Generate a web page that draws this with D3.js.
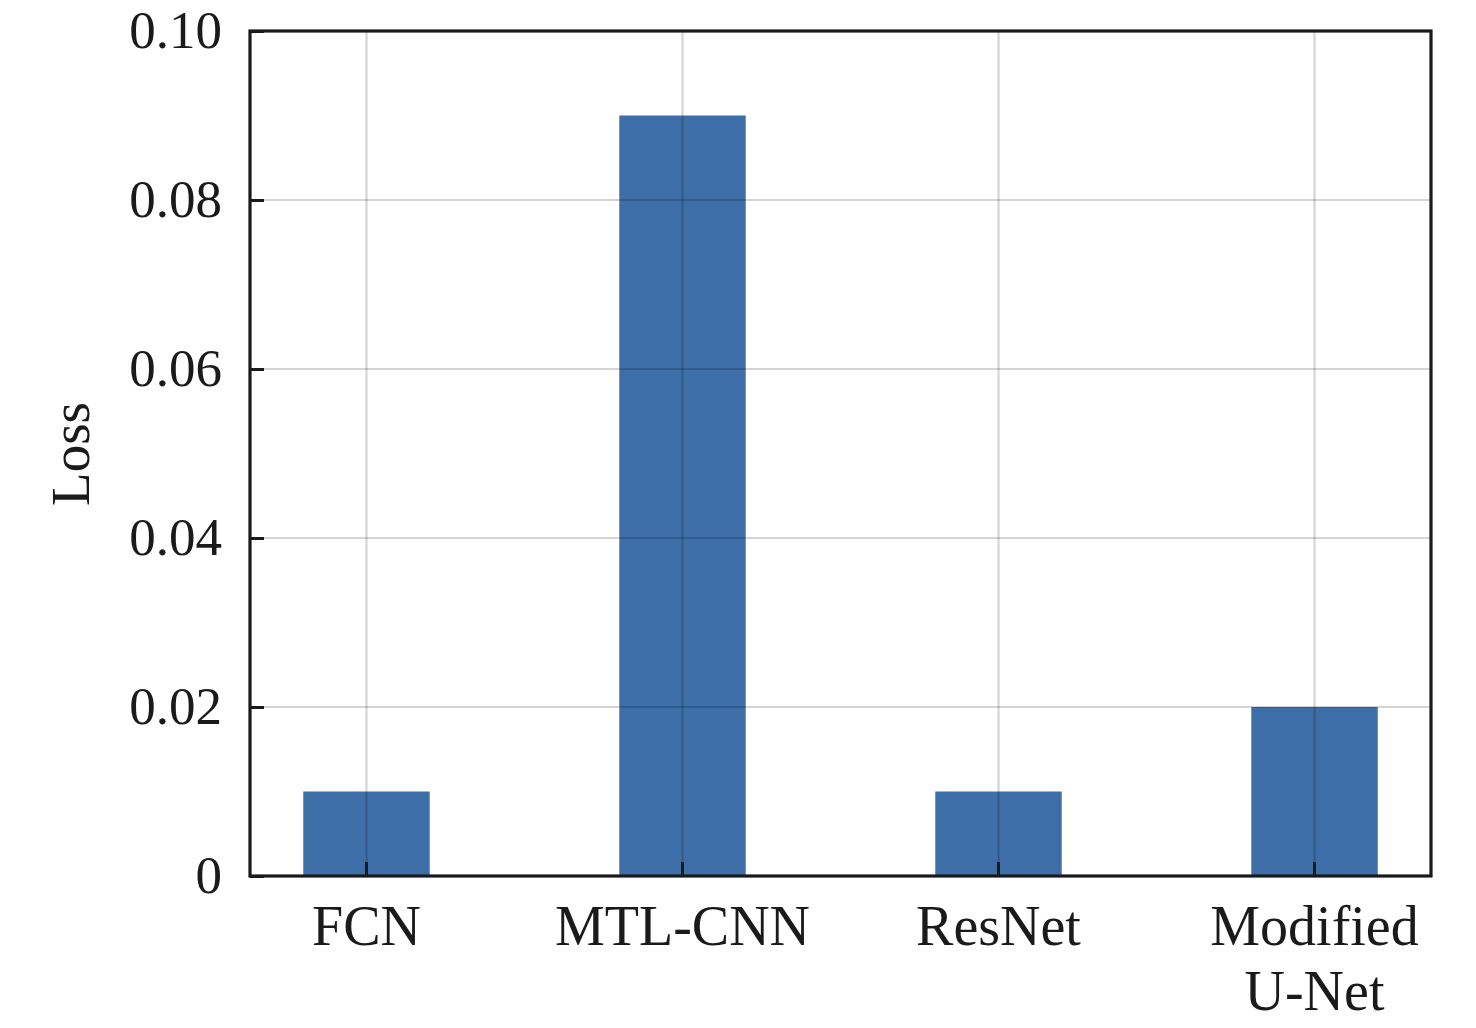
<!DOCTYPE html>
<html>
<head>
<meta charset="utf-8">
<script src="https://cdn.jsdelivr.net/npm/d3@7"></script>
<style>
html,body{margin:0;padding:0;background:#fff;}
svg{display:block;}
text{font-family:"Liberation Serif","Times New Roman",serif;fill:#1a1a1a;}
</style>
</head>
<body>
<svg id="chart" width="1476" height="1028"></svg>
<script>
const categories = ["FCN", "MTL-CNN", "ResNet", "Modified U-Net"];
const categoryLines = [["FCN"], ["MTL-CNN"], ["ResNet"], ["Modified", "U-Net"]];
const lossValues = [0.01, 0.09, 0.01, 0.02];
const yTicks = [0, 0.02, 0.04, 0.06, 0.08, 0.10];
const yTickLabels = ["0", "0.02", "0.04", "0.06", "0.08", "0.10"];

const svg = d3.select("#chart");
const L = 250, R = 1431, T = 31, B = 876;

const x = d3.scaleBand().domain(categories).range([L, R])
  .paddingInner(0.6).paddingOuter(0.1686).align(0.5);
const y = d3.scaleLinear().domain([0, 0.1]).range([B, T]);

// bars
svg.append("g").selectAll("rect").data(categories).join("rect")
  .attr("x", d => x(d))
  .attr("width", x.bandwidth())
  .attr("y", (d, i) => y(lossValues[i]))
  .attr("height", (d, i) => y(0) - y(lossValues[i]))
  .attr("fill", "#3d6ea7");

// grid lines (drawn above bars)
const grid = svg.append("g").attr("stroke", "#000").attr("stroke-opacity", 0.17).attr("stroke-width", 2.2);
grid.selectAll("line.h").data(yTicks.slice(1, -1)).join("line").attr("class", "h")
  .attr("x1", L).attr("x2", R).attr("y1", d => y(d)).attr("y2", d => y(d));
grid.selectAll("line.v").data(categories).join("line").attr("class", "v")
  .attr("x1", d => x(d) + x.bandwidth() / 2).attr("x2", d => x(d) + x.bandwidth() / 2)
  .attr("y1", T).attr("y2", B);

// axes with inward ticks
const xAxis = d3.axisBottom(x).tickSizeInner(-14).tickSizeOuter(0).tickFormat("");
const gx = svg.append("g").attr("transform", `translate(0,${B})`).call(xAxis);
gx.select(".domain").remove();
gx.selectAll(".tick line").attr("stroke", "#1a1a1a").attr("stroke-width", 3);

const yAxis = d3.axisLeft(y).tickValues(yTicks).tickSizeInner(-14).tickSizeOuter(0)
  .tickFormat((d, i) => yTickLabels[i]);
const gy = svg.append("g").attr("transform", `translate(${L},0)`).call(yAxis);
gy.select(".domain").remove();
gy.selectAll(".tick line").attr("stroke", "#1a1a1a").attr("stroke-width", 3);
gy.selectAll(".tick text")
  .attr("x", -28).attr("dy", null).attr("y", 16)
  .attr("font-size", 53).attr("font-family", "Liberation Serif").attr("fill", "#1a1a1a");

// x labels
const xl = svg.append("g");
categories.forEach((c, i) => {
  const cx = x(c) + x.bandwidth() / 2;
  const t = xl.append("text").attr("x", cx).attr("y", 945)
    .attr("text-anchor", "middle").attr("font-size", 56);
  categoryLines[i].forEach((ln, j) => {
    t.append("tspan").attr("x", cx).attr("dy", j === 0 ? 0 : 65).text(ln);
  });
});

// frame
svg.append("rect").attr("x", L).attr("y", T).attr("width", R - L).attr("height", B - T)
  .attr("fill", "none").attr("stroke", "#1a1a1a").attr("stroke-width", 3.2);

// y title
svg.append("text").attr("transform", `translate(89,454) rotate(-90)`)
  .attr("text-anchor", "middle").attr("font-size", 55).text("Loss");
</script>
</body>
</html>
